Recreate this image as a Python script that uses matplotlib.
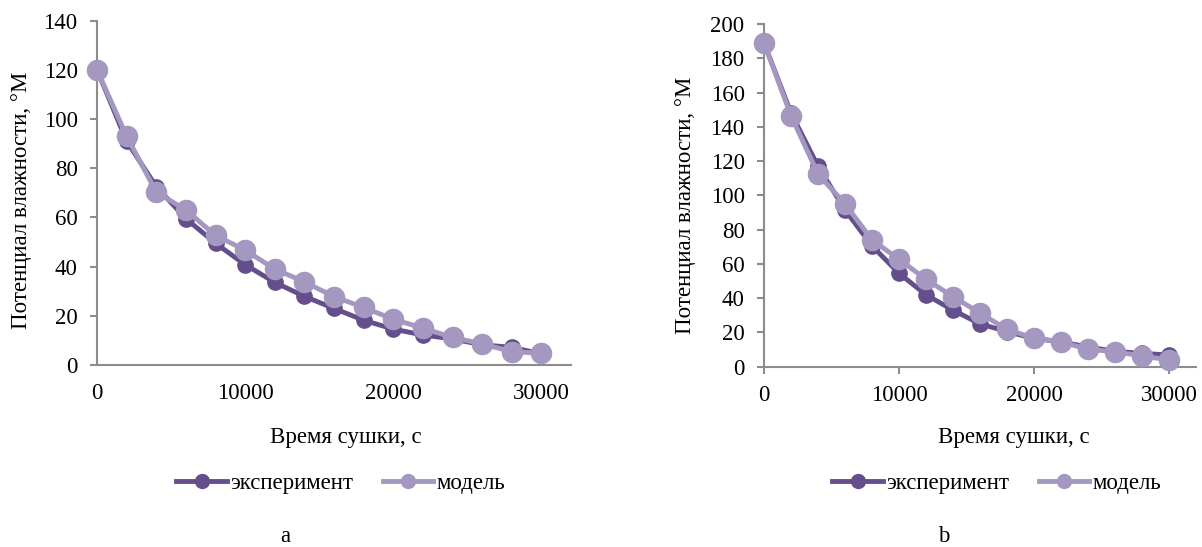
import matplotlib
matplotlib.use('Agg')
from matplotlib import pyplot as plt
from matplotlib.lines import Line2D

plt.rcParams['font.family'] = ['Liberation Serif', 'DejaVu Serif']
plt.rcParams['font.size'] = 16.5

# time, s
time_s = [0, 2000, 4000, 6000, 8000, 10000, 12000, 14000, 16000,
          18000, 20000, 22000, 24000, 26000, 28000, 30000]

# chart a
exp_a = [120, 91, 72.5, 59.5, 49.5, 40.8, 33.6, 27.9, 23, 18.2, 14.6, 12.2, 10.6, 8.2, 7.2, 4.5]
model_a = [120, 93, 70.3, 63, 52.7, 46.7, 39, 33.8, 27.8, 23.4, 18.6, 15, 11.2, 8.6, 5.4, 4.8]

# chart b
exp_b = [189, 148, 117, 91.5, 70.5, 54.5, 42, 33, 25, 20.5, 16.5, 14.5, 11.5, 9, 7.8, 6.8]
model_b = [189, 146.5, 112.5, 95, 74, 62.7, 51, 40.9, 31.3, 21.8, 16.6, 14.6, 10.1, 8.8, 6.2, 4]

exp_color = '#654E8C'
model_color = '#A598C0'
axis_color = '#8C8C8C'

W, H = 1202, 547
fig = plt.figure(figsize=(W / 100, H / 100), dpi=100)


def px_axes(x0, x1, y_top, y_bot):
    return fig.add_axes([x0 / W, 1 - y_bot / H, (x1 - x0) / W, (y_bot - y_top) / H])


def style_axes(ax, ymax, xticks_visible):
    ax.set_xlim(0, 32000)
    ax.set_ylim(0, ymax)
    ax.set_xticks([0, 10000, 20000, 30000])
    ax.set_yticks(range(0, ymax + 1, 20))
    for s in ['top', 'right']:
        ax.spines[s].set_visible(False)
    for s in ['left', 'bottom']:
        ax.spines[s].set_color(axis_color)
        ax.spines[s].set_linewidth(1.5)
    ax.tick_params(axis='y', direction='out', length=5, width=1.5, color=axis_color, pad=9)
    if xticks_visible:
        ax.tick_params(axis='x', direction='out', length=5, width=1.5, color=axis_color, pad=8)
    else:
        ax.tick_params(axis='x', length=0, pad=13)


def draw(ax, exp, model):
    ax.plot(time_s, exp, color=exp_color, lw=3.5, marker='o', markersize=11, clip_on=False, zorder=3)
    ax.plot(time_s, model, color=model_color, lw=3.5, marker='o', markersize=14.5, clip_on=False, zorder=4)


ax1 = px_axes(97, 571, 20.6, 365)
style_axes(ax1, 140, False)
draw(ax1, exp_a, model_a)

ax2 = px_axes(764, 1196, 24, 366.7)
style_axes(ax2, 200, True)
draw(ax2, exp_b, model_b)

ylabel = 'Потенциал влажности, °М'
xlabel = 'Время сушки, с'
fig.text(22 / W, 1 - 200 / H, ylabel, rotation=90, ha='center', va='center')
fig.text(685 / W, 1 - 205 / H, ylabel, rotation=90, ha='center', va='center')
fig.text(346 / W, 1 - 438 / H, xlabel, ha='center', va='center')
fig.text(1014 / W, 1 - 437 / H, xlabel, ha='center', va='center')

handles = [Line2D([], [], color=exp_color, lw=3.5, marker='o', markersize=10),
           Line2D([], [], color=model_color, lw=3.5, marker='o', markersize=10)]
labels = ['эксперимент', 'модель']
for cx in [341, 997]:
    fig.legend(handles, labels, loc='center', bbox_to_anchor=(cx / W, 1 - 483 / H),
               ncol=2, frameon=False, handlelength=2.2, handletextpad=0.15,
               columnspacing=1.3, borderaxespad=0, borderpad=0)

fig.text(285 / W, 1 - 537 / H, 'a', ha='center', va='center')
fig.text(944 / W, 1 - 537 / H, 'b', ha='center', va='center')

fig.savefig('out.png', dpi=100)
